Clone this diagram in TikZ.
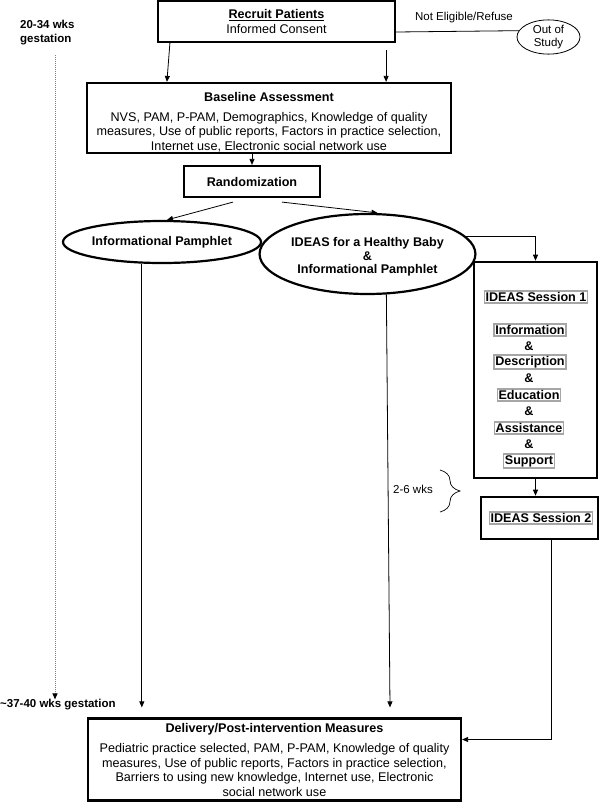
\documentclass[tikz,border=0pt]{standalone}
\usepackage{fontspec}
\setmainfont{Liberation Sans}
\usetikzlibrary{shapes.geometric,arrows.meta,decorations.pathreplacing}

\begin{document}
\begin{tikzpicture}[x=1pt,y=-1pt,
    txt/.style={font=\fontsize{12.6}{14.5}\selectfont, align=center, inner sep=0pt},
    sml/.style={font=\fontsize{11.5}{13.5}\selectfont, align=center, inner sep=0pt},
    mainbox/.style={draw, line width=2.2pt, inner sep=0pt},
    sessbox/.style={draw, line width=2.6pt, inner sep=0pt},
    grpbox/.style={draw=gray!70, line width=1.6pt, fill=white, inner sep=1.2pt,
        font=\fontsize{12.6}{14.5}\selectfont\bfseries},
    oval/.style={ellipse, draw, line width=2.2pt, inner sep=0pt},
    arr/.style={-{Triangle[length=6pt,width=5pt]}, line width=0.8pt},
    ln/.style={line width=0.8pt},
    dotarr/.style={densely dotted, gray, line width=1pt, -{Triangle[length=6pt,width=5pt,black]}}]

    \useasboundingbox (0,0) rectangle (600,803);

    % Recruitment and exclusion
    \node[mainbox, txt, minimum width=237pt, minimum height=41pt] (recruit) at (276.5,21.5)
        {\underline{\textbf{Recruit Patients}}\\Informed Consent};
    \node[sml] (refuse) at (464,18) {Not Eligible/Refuse};
    \node[ellipse, draw, line width=0.8pt, sml, minimum width=63pt, minimum height=34pt] (out)
        at (548.5,37) {Out of\\Study};

    % Time line on the left
    \node[sml, font=\fontsize{11.5}{13.5}\selectfont\bfseries, align=left, anchor=west] (wksone)
        at (20,32.5) {20-34 wks\\gestation};
    \node[sml, font=\fontsize{11.5}{13.5}\selectfont\bfseries, anchor=west] (wkstwo)
        at (0,705) {\textasciitilde37-40 wks gestation};

    % Baseline and randomization
    \node[mainbox, txt, minimum width=364pt, minimum height=70pt] (base) at (269,118)
        {\rule{0pt}{18pt}\textbf{Baseline Assessment}\\[5pt]
         NVS, PAM, P-PAM, Demographics, Knowledge of quality\\
         measures, Use of public reports, Factors in practice selection,\\
         Internet use, Electronic social network use};
    \node[mainbox, txt, minimum width=136pt, minimum height=31pt] (rand) at (252,181.5)
        {\textbf{Randomization}};

    % Study arms
    \node[oval, txt, minimum width=178pt, minimum height=42pt] (info) at (162,242)
        {\textbf{Informational Pamphlet}};
    \node[oval, txt, minimum width=201pt, minimum height=80pt] (ideas) at (367.5,254)
        {\rule{0pt}{15pt}\textbf{IDEAS for a Healthy Baby}\\[-1pt]\textbf{\&}\\[-1pt]\textbf{Informational Pamphlet}};

    % Intervention sessions
    \node[sessbox, minimum width=123pt, minimum height=216pt] (s1) at (535.5,370) {};
    \node[grpbox] (stitle) at (536,297) {IDEAS Session 1};
    \node[grpbox] (sinfo) at (530,330) {Information};
    \node[grpbox] (sdesc) at (530,362) {Description};
    \node[grpbox] (sedu) at (529,395) {Education};
    \node[grpbox] (sassist) at (529,428) {Assistance};
    \node[grpbox] (ssupp) at (529,461) {Support};
    \foreach \y [count=\i] in {346,378.5,411.5,444.5}
        \node[txt] (amp\i) at (529,\y) {\textbf{\&}};

    \node[sessbox, minimum width=117pt, minimum height=42pt] (s2) at (539.5,518) {};
    \node[grpbox] (stwo) at (541,518) {IDEAS Session 2};

    % Gap between sessions
    \node[sml] (gap) at (413,489) {2-6 wks};
    \draw[decorate, decoration={brace, amplitude=20pt, aspect=0.5}, line width=0.7pt]
        (440,470) -- (440,512);

    % Outcome measures
    \node[mainbox, txt, minimum width=373pt, minimum height=82pt] (deliv) at (274.5,759.5)
        {\textbf{Delivery/Post-intervention Measures}\\[6pt]
         Pediatric practice selected, PAM, P-PAM, Knowledge of quality\\
         measures, Use of public reports, Factors in practice selection,\\
         Barriers to using new knowledge, Internet use, Electronic\\
         social network use};

    % Connectors
    \coordinate (rtwo) at ([xshift=-10pt,yshift=-7pt]recruit.south east);
    \coordinate (dtip) at ([yshift=10pt]deliv.north);
    \coordinate (djoin) at ([yshift=20pt]deliv.east);
    \coordinate (dtop) at (55,55);

    \draw[ln] ([yshift=-10.5pt]recruit.east) -- (out.168);
    \draw[arr] ([xshift=13pt]recruit.south west) -- ([xshift=81pt]base.north west);
    \draw[arr] (rtwo) -- (rtwo |- base.north);
    \draw[arr] (rand.north |- base.south) -- (rand.north);
    \draw[arr] ([xshift=-19pt,yshift=-4pt]rand.south) -- ([xshift=5pt]info.north);
    \draw[arr] ([xshift=30pt,yshift=-4pt]rand.south) -- ([xshift=10pt]ideas.north);
    \draw[arr] (ideas.10) -| (s1.north);
    \draw[arr] (s1.south) -- (s1.south |- s2.north);
    \draw[arr] ([xshift=12pt]s2.south) |- (djoin);
    \draw[arr] (info.227) -- (info.227 |- dtip);
    \draw[arr] (ideas.-65) -- ([xshift=115.5pt]dtip);
    \draw[dotarr] (dtop) -- (dtop |- wkstwo.north);

\end{tikzpicture}
\end{document}
